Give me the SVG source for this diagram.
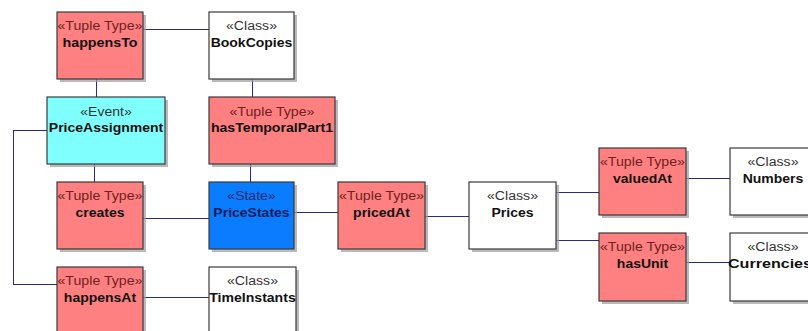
<svg xmlns="http://www.w3.org/2000/svg" width="808" height="331" viewBox="0 0 808 331">
<style>
.sh{fill:#9c9c9c;opacity:0.7}
.bx{stroke:#3a3a3a;stroke-width:1.2}
.tt{fill:#ff8080}
.cl{fill:#ffffff}
.ev{fill:#80ffff}
.st{fill:#0a7cff}
text{font-family:"Liberation Sans",Arial,sans-serif;font-size:12.5px;text-anchor:middle}
.s{fill:#333333}
.tts{fill:#6e2222}
.n{font-weight:bold;fill:#111111}
.sts{fill:#1c2c6c}
.stn{font-weight:bold;fill:#0c1c5a}
.c{fill:none;stroke:#2a2a86;stroke-width:1;shape-rendering:crispEdges}
</style>
<rect width="808" height="331" fill="#ffffff"/>
<g id="connectors">
<path class="c" d="M143 29.5H209"/>
<path class="c" d="M96.5 79V97"/>
<path class="c" d="M252.5 79V97"/>
<path class="c" d="M94.5 164V182"/>
<path class="c" d="M250.5 164V182"/>
<path class="c" d="M47 130.5H13.5V284.5H57"/>
<path class="c" d="M143 218.5H209"/>
<path class="c" d="M294 212.5H338"/>
<path class="c" d="M143 297.5H209"/>
<path class="c" d="M425 216.5H469"/>
<path class="c" d="M556 192.5H599"/>
<path class="c" d="M556 240.5H599"/>
<path class="c" d="M686 178.5H730"/>
<path class="c" d="M686 262.5H730"/>
</g>
<g id="happensTo">
<rect class="sh" x="60" y="15" width="86" height="67"/>
<rect class="bx tt" x="57" y="12" width="86" height="67"/>
<text class="tts" x="100" y="30" textLength="85" lengthAdjust="spacingAndGlyphs">«Tuple Type»</text>
<text class="n" x="100" y="47" textLength="75" lengthAdjust="spacingAndGlyphs">happensTo</text>
</g>
<g id="BookCopies">
<rect class="sh" x="212" y="15" width="85" height="67"/>
<rect class="bx cl" x="209" y="12" width="85" height="67"/>
<text class="s" x="251.5" y="30" textLength="51" lengthAdjust="spacingAndGlyphs">«Class»</text>
<text class="n" x="251.5" y="47" textLength="81.7" lengthAdjust="spacingAndGlyphs">BookCopies</text>
</g>
<g id="PriceAssignment">
<rect class="sh" x="50" y="100" width="118" height="67"/>
<rect class="bx ev" x="47" y="97" width="118" height="67"/>
<text class="s" x="106" y="116" textLength="51.4" lengthAdjust="spacingAndGlyphs">«Event»</text>
<text class="n" x="106" y="132" textLength="114.4" lengthAdjust="spacingAndGlyphs">PriceAssignment</text>
</g>
<g id="hasTemporalPart1">
<rect class="sh" x="212" y="100" width="126" height="67"/>
<rect class="bx tt" x="209" y="97" width="126" height="67"/>
<text class="tts" x="272" y="116" textLength="85" lengthAdjust="spacingAndGlyphs">«Tuple Type»</text>
<text class="n" x="272" y="132" textLength="122.2" lengthAdjust="spacingAndGlyphs">hasTemporalPart1</text>
</g>
<g id="creates">
<rect class="sh" x="60" y="185" width="86" height="67"/>
<rect class="bx tt" x="57" y="182" width="86" height="67"/>
<text class="tts" x="100" y="200" textLength="85" lengthAdjust="spacingAndGlyphs">«Tuple Type»</text>
<text class="n" x="100" y="217" textLength="49" lengthAdjust="spacingAndGlyphs">creates</text>
</g>
<g id="PriceStates">
<rect class="sh" x="212" y="185" width="85" height="67"/>
<rect class="bx st" x="209" y="182" width="85" height="67"/>
<text class="sts" x="251.5" y="200" textLength="48.3" lengthAdjust="spacingAndGlyphs">«State»</text>
<text class="stn" x="251.5" y="217" textLength="76.3" lengthAdjust="spacingAndGlyphs">PriceStates</text>
</g>
<g id="happensAt">
<rect class="sh" x="60" y="270" width="86" height="67"/>
<rect class="bx tt" x="57" y="267" width="86" height="67"/>
<text class="tts" x="100" y="285" textLength="85" lengthAdjust="spacingAndGlyphs">«Tuple Type»</text>
<text class="n" x="100" y="302" textLength="72.3" lengthAdjust="spacingAndGlyphs">happensAt</text>
</g>
<g id="TimeInstants">
<rect class="sh" x="212" y="270" width="87" height="67"/>
<rect class="bx cl" x="209" y="267" width="87" height="67"/>
<text class="s" x="252.5" y="285" textLength="51" lengthAdjust="spacingAndGlyphs">«Class»</text>
<text class="n" x="252.5" y="302" textLength="86.4" lengthAdjust="spacingAndGlyphs">TimeInstants</text>
</g>
<g id="pricedAt">
<rect class="sh" x="341" y="185" width="87" height="67"/>
<rect class="bx tt" x="338" y="182" width="87" height="67"/>
<text class="tts" x="381.5" y="200" textLength="85" lengthAdjust="spacingAndGlyphs">«Tuple Type»</text>
<text class="n" x="381.5" y="217" textLength="56.8" lengthAdjust="spacingAndGlyphs">pricedAt</text>
</g>
<g id="Prices">
<rect class="sh" x="472" y="185" width="87" height="67"/>
<rect class="bx cl" x="469" y="182" width="87" height="67"/>
<text class="s" x="512.5" y="200" textLength="51" lengthAdjust="spacingAndGlyphs">«Class»</text>
<text class="n" x="512.5" y="217" textLength="42" lengthAdjust="spacingAndGlyphs">Prices</text>
</g>
<g id="valuedAt">
<rect class="sh" x="602" y="151" width="87" height="67"/>
<rect class="bx tt" x="599" y="148" width="87" height="67"/>
<text class="tts" x="642.5" y="166" textLength="85" lengthAdjust="spacingAndGlyphs">«Tuple Type»</text>
<text class="n" x="642.5" y="183" textLength="59.1" lengthAdjust="spacingAndGlyphs">valuedAt</text>
</g>
<g id="hasUnit">
<rect class="sh" x="602" y="236" width="87" height="68"/>
<rect class="bx tt" x="599" y="233" width="87" height="68"/>
<text class="tts" x="642.5" y="251" textLength="85" lengthAdjust="spacingAndGlyphs">«Tuple Type»</text>
<text class="n" x="642.5" y="268" textLength="51.3" lengthAdjust="spacingAndGlyphs">hasUnit</text>
</g>
<g id="Numbers">
<rect class="sh" x="733" y="151" width="86" height="67"/>
<rect class="bx cl" x="730" y="148" width="86" height="67"/>
<text class="s" x="773" y="166" textLength="51" lengthAdjust="spacingAndGlyphs">«Class»</text>
<text class="n" x="773" y="183" textLength="60.7" lengthAdjust="spacingAndGlyphs">Numbers</text>
</g>
<g id="Currencies">
<rect class="sh" x="733" y="236" width="86" height="68"/>
<rect class="bx cl" x="730" y="233" width="86" height="68"/>
<text class="s" x="773" y="251" textLength="51" lengthAdjust="spacingAndGlyphs">«Class»</text>
<text class="n" x="770" y="268" textLength="84" lengthAdjust="spacingAndGlyphs">Currencies</text>
</g>
</svg>
